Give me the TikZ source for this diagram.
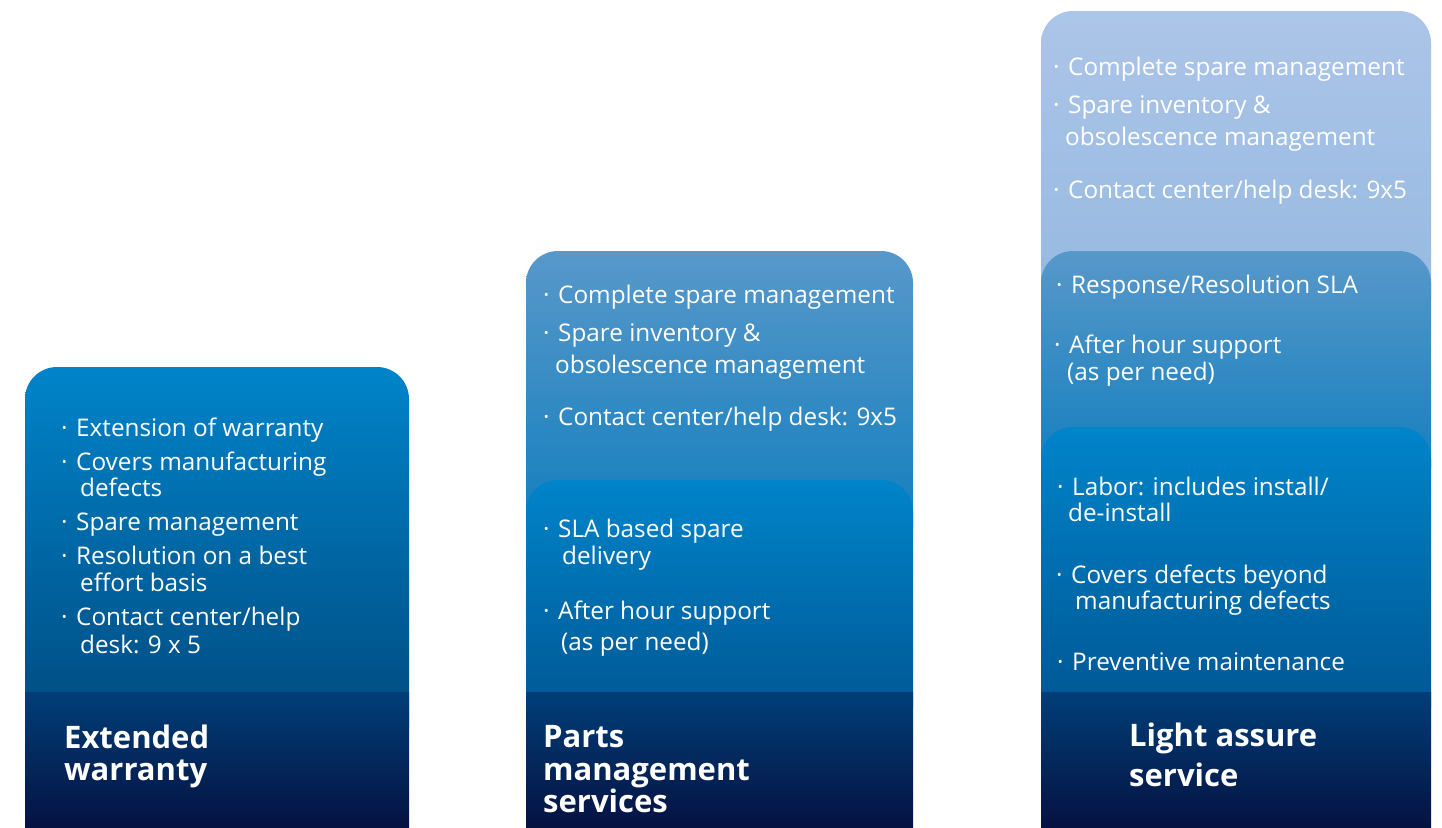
\documentclass[tikz,border=0pt]{standalone}
\usepackage{fontspec}
\setmainfont{Open Sans}
\usetikzlibrary{positioning}
\definecolor{coretop}{RGB}{0,132,202}
\definecolor{corebot}{RGB}{0,82,142}
\definecolor{midtop}{RGB}{88,152,202}
\definecolor{midbot}{RGB}{12,124,188}
\definecolor{lighttop}{RGB}{172,197,232}
\definecolor{lightbot}{RGB}{148,184,224}
\definecolor{darktop}{RGB}{0,62,120}
\definecolor{darkbot}{RGB}{6,18,66}
\newcommand{\bl}{\makebox[15pt][l]{·}}

\begin{document}
\begin{tikzpicture}[x=1pt,y=-1pt,
  txt/.style={anchor=base west,inner sep=0pt,text=white,font=\fontsize{24.3}{26}\selectfont},
  ttl/.style={anchor=base west,inner sep=0pt,text=white,font=\fontsize{31}{34}\selectfont\bfseries},
  box/.style={rounded corners=32pt}]
  \useasboundingbox (0,0) rectangle (1442,827);

  % extended warranty
  \shade[box,top color=coretop,bottom color=corebot!85!black] (25,367) rectangle (409,760);
  \shade[top color=darktop,bottom color=darkbot] (25,692) rectangle (409,827);
  \node[txt] (ew1) at (61,436) {\bl Extension of warranty};
  \node[txt] (ew2) at (61,470) {\bl Covers manufacturing};
  \node[txt] (ew2b) at (80,496) {defects};
  \node[txt] (ew3) at (61,530) {\bl Spare management};
  \node[txt] (ew4) at (61,564) {\bl Resolution on a best};
  \node[txt] (ew4b) at (80,591) {effort basis};
  \node[txt] (ew5) at (61,625) {\bl Contact center/help};
  \node[txt] (ew5b) at (80,653) {desk: 9 x 5};
  \node[ttl] (ewt1) at (64,748) {Extended};
  \node[ttl] (ewt2) at (64,780) {warranty};

  % parts management services
  \shade[box,top color=midtop,bottom color=midbot] (526,251) rectangle (913,560);
  \shade[box,top color=coretop,bottom color=corebot] (526,480) rectangle (913,740);
  \shade[top color=darktop,bottom color=darkbot] (526,692) rectangle (913,827);
  \node[txt] (pm1) at (543,303) {\bl Complete spare management};
  \node[txt] (pm2) at (543,341) {\bl Spare inventory \&};
  \node[txt] (pm2b) at (555,373) {obsolescence management};
  \node[txt] (pm3) at (543,425) {\bl Contact center/help desk: 9x5};
  \node[txt] (pm4) at (543,537) {\bl SLA based spare};
  \node[txt] (pm4b) at (562,564) {delivery};
  \node[txt] (pm5) at (543,619) {\bl After hour support};
  \node[txt] (pm5b) at (561,650) {(as per need)};
  \node[ttl] (pmt1) at (543,747) {Parts};
  \node[ttl] (pmt2) at (543,780) {management};
  \node[ttl] (pmt3) at (543,812) {services};

  % light assure service
  \shade[box,top color=lighttop,bottom color=lightbot] (1041,11) rectangle (1431,330);
  \shade[box,top color=midtop,bottom color=midbot] (1041,251) rectangle (1431,500);
  \shade[box,top color=coretop,bottom color=corebot] (1041,427) rectangle (1431,740);
  \shade[top color=darktop,bottom color=darkbot] (1041,692) rectangle (1431,827);
  \node[txt] (la1) at (1053,75) {\bl Complete spare management};
  \node[txt] (la2) at (1053,113) {\bl Spare inventory \&};
  \node[txt] (la2b) at (1065,145) {obsolescence management};
  \node[txt] (la3) at (1053,198) {\bl Contact center/help desk: 9x5};
  \node[txt] (la4) at (1056,293) {\bl Response/Resolution SLA};
  \node[txt] (la5) at (1054,353) {\bl After hour support};
  \node[txt] (la5b) at (1067,380) {(as per need)};
  \node[txt] (la6) at (1057,495) {\bl Labor: includes install/};
  \node[txt] (la6b) at (1068,521) {de-install};
  \node[txt] (la7) at (1056,583) {\bl Covers defects beyond};
  \node[txt] (la7b) at (1075,609) {manufacturing defects};
  \node[txt] (la8) at (1057,670) {\bl Preventive maintenance};
  \node[ttl] (lat1) at (1129,746) {Light assure};
  \node[ttl] (lat2) at (1129,786) {service};
\end{tikzpicture}
\end{document}
